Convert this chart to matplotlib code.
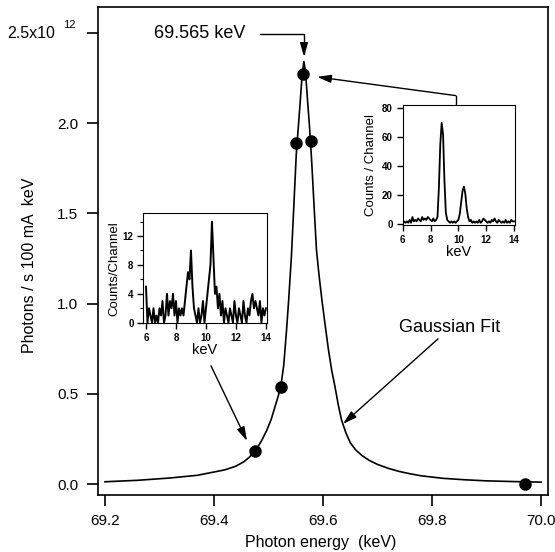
import matplotlib

matplotlib.use("Agg")
import matplotlib.pyplot as plt
import numpy as np

plt.rcParams["font.family"] = ["Liberation Sans", "DejaVu Sans"]

# main panel: measured points (keV, 1e12 photons / s 100 mA keV)
point_energy = [69.4745, 69.5233, 69.5512, 69.5642, 69.5785, 69.9707]
point_photons = [0.186, 0.537, 1.891, 2.270, 1.900, 0.0]

# fit curve
fit_energy = [69.200, 69.260, 69.320, 69.370, 69.400, 69.420, 69.440, 69.455,
              69.465, 69.473, 69.480, 69.488, 69.497, 69.505, 69.512, 69.518,
              69.523, 69.528, 69.533, 69.537, 69.542, 69.547, 69.551, 69.555,
              69.558, 69.562, 69.565, 69.568, 69.572, 69.575, 69.579, 69.583,
              69.588, 69.593, 69.598, 69.604, 69.610, 69.616, 69.622, 69.628,
              69.634, 69.642, 69.650, 69.660, 69.672, 69.685, 69.700, 69.720,
              69.740, 69.760, 69.780, 69.820, 69.860, 69.900, 69.950, 70.000]
fit_photons = [0.014, 0.022, 0.035, 0.050, 0.068, 0.080, 0.100, 0.125,
               0.150, 0.180, 0.205, 0.245, 0.300, 0.360, 0.430, 0.490,
               0.550, 0.660, 0.850, 1.020, 1.260, 1.574, 1.830, 1.990,
               2.110, 2.280, 2.340, 2.280, 2.110, 1.990, 1.800, 1.574,
               1.297, 1.150, 1.020, 0.880, 0.744, 0.630, 0.540, 0.440,
               0.356, 0.285, 0.230, 0.190, 0.158, 0.132, 0.110, 0.088,
               0.071, 0.058, 0.047, 0.033, 0.025, 0.019, 0.015, 0.012]

x_ticks = [69.2, 69.4, 69.6, 69.8, 70.0]
y_ticks = [0.0, 0.5, 1.0, 1.5, 2.0, 2.5]
y_tick_labels = ["0.0", "0.5", "1.0", "1.5", "2.0", ""]

# insets: counts per channel, channels every 0.1 keV from 6 to 14
channel_kev = np.linspace(6.0, 14.0, 81)
counts_low = [5, 0, 2, 1, 0, 2, 0, 1, 0, 2, 1, 3, 0, 1, 4, 1, 3, 2, 4, 1,
              3, 0, 2, 1, 2, 1, 3, 5, 7, 6, 10, 5, 2, 1, 0, 2, 0, 1, 3, 0,
              2, 4, 6, 8, 14, 9, 4, 5, 2, 4, 1, 3, 0, 2, 1, 0, 2, 1, 0, 3,
              1, 0, 2, 1, 0, 3, 1, 0, 2, 1, 3, 4, 2, 3, 2, 1, 3, 0, 2, 1, 2]
counts_peak = [1, 2, 1, 2, 1, 3, 1, 5, 2, 3, 2, 4, 3, 2, 5, 3, 4, 3, 5, 4,
               3, 2, 4, 2, 3, 5, 25, 55, 70, 62, 30, 8, 3, 2, 1, 2, 1, 2, 1,
               2, 3, 7, 15, 23, 26, 21, 11, 5, 2, 3, 1, 2, 1, 2, 1, 3, 1, 2,
               4, 3, 2, 1, 2, 1, 3, 2, 4, 2, 1, 3, 2, 1, 2, 1, 3, 1, 2, 1, 3, 2, 2]

fig = plt.figure(figsize=(5.55, 5.52), dpi=100)
ax = fig.add_axes([0.176, 0.1033, 0.8114, 0.8835])
ax.plot(fit_energy, fit_photons, color="black", lw=1.2)
ax.plot(point_energy, point_photons, "o", color="black", markersize=8)
ax.set_xlim(69.1866, 70.0128)
ax.set_ylim(-0.0592, 2.6406)
ax.set_xticks(x_ticks)
ax.set_xticklabels([f"{v:.1f}" for v in x_ticks])
ax.set_yticks(y_ticks)
ax.set_yticklabels(y_tick_labels)
ax.tick_params(direction="out", length=8, width=1.2, labelsize=11, pad=6)
for s in ax.spines.values():
    s.set_linewidth(1.2)

fig.text(55 / 555, 1 - 33 / 552, "2.5x10", ha="right", va="center", fontsize=11.5)
fig.text(63 / 555, 1 - 25 / 552, "12", ha="left", va="center", fontsize=8)
fig.text(30 / 555, 1 - 265 / 552, "Photons / s 100 mA  keV", rotation=90,
         ha="center", va="center", fontsize=11.5)
fig.text(321 / 555, 1 - 543 / 552, "Photon energy  (keV)", ha="center",
         va="center", fontsize=11.5)

head = dict(arrowstyle="-|>,head_length=0.7,head_width=0.2", color="black",
            lw=1.0, shrinkA=0, shrinkB=0, mutation_scale=12)
ax.text(69.458, 2.493, "69.565 keV", ha="right", va="center", fontsize=13)
ax.annotate("", xy=(69.5651, 2.366), xytext=(69.4844, 2.493),
            arrowprops=dict(head, connectionstyle="angle,angleA=0,angleB=90,rad=0"))
ax.plot([69.8435, 69.8435], [2.1002, 2.1517], color="black", lw=1.0)
ax.annotate("", xy=(69.589, 2.2553), xytext=(69.8435, 2.1517), arrowprops=head)
ax.annotate("", xy=(69.4606, 0.2398), xytext=(69.3945, 0.6556), arrowprops=head)
ax.text(69.8317, 0.869, "Gaussian Fit", ha="center", va="center", fontsize=13)
ax.annotate("", xy=(69.6367, 0.334), xytext=(69.811, 0.805), arrowprops=head)

# left inset
axl = fig.add_axes([0.2582, 0.4143, 0.2223, 0.1993])
axl.plot(channel_kev, counts_low, color="black", lw=1.4)
axl.set_xlim(5.82, 14.05)
axl.set_ylim(-0.08, 15.15)
axl.set_xticks([6, 8, 10, 12, 14])
axl.set_yticks([0, 4, 8, 12])
axl.set_yticks([2, 6, 10, 14], minor=True)
axl.tick_params(direction="out", length=4, width=1.0, labelsize=7, pad=3)
axl.tick_params(which="minor", direction="out", length=2.5, width=0.8)
for lab in axl.get_xticklabels() + axl.get_yticklabels():
    lab.set_fontweight("bold")
axl.set_xlabel("keV", fontsize=10.5, labelpad=0)
axl.set_ylabel("Counts/Channel", fontsize=9.5, labelpad=2)

# right inset
axr = fig.add_axes([0.7256, 0.5924, 0.2023, 0.2174])
axr.plot(channel_kev, counts_peak, color="black", lw=1.3)
axr.set_xlim(6.0, 14.07)
axr.set_ylim(-0.5, 82.3)
axr.set_xticks([6, 8, 10, 12, 14])
axr.set_yticks([0, 20, 40, 60, 80])
axr.tick_params(direction="out", length=4, width=1.0, labelsize=7, pad=3)
for lab in axr.get_xticklabels() + axr.get_yticklabels():
    lab.set_fontweight("bold")
axr.set_xlabel("keV", fontsize=10.5, labelpad=0)
axr.set_ylabel("Counts / Channel", fontsize=9.5, labelpad=4)

fig.savefig("out.png", dpi=100)
